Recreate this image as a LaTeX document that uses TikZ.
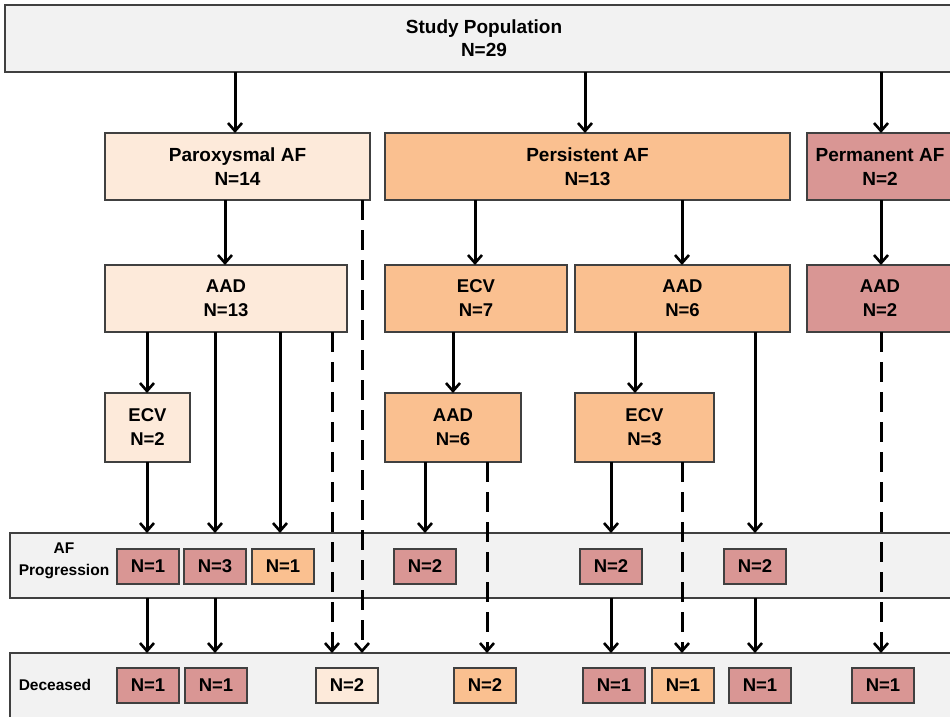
\documentclass[tikz,border=0pt]{standalone}
\usepackage{fontspec}
\setmainfont{Liberation Sans}
\usetikzlibrary{arrows.meta}
\definecolor{peach}{HTML}{FDEADA}
\definecolor{orng}{HTML}{FAC090}
\definecolor{rose}{HTML}{D99694}
\definecolor{bandc}{HTML}{F2F2F2}
\definecolor{edgec}{HTML}{404040}
\begin{document}
\begin{tikzpicture}[x=1pt,y=-1pt,
  box/.style={draw=edgec, line width=1.3pt, inner sep=0pt, outer sep=0pt,
    anchor=north west, align=center, minimum height=67pt,
    font=\fontsize{18.5}{24}\selectfont\bfseries},
  sm/.style={box, minimum width=62pt, minimum height=35pt},
  lbl/.style={align=center, inner sep=0pt, font=\fontsize{15.5}{22}\selectfont\bfseries},
  arr/.style={line width=3pt, -{Straight Barb[length=8pt,width=14pt,line width=2.6pt]}},
  dsh/.style={arr, dash pattern=on 20pt off 10pt},
]
\useasboundingbox (0,0) rectangle (950,716);
\clip (0,0) rectangle (950,716);
\fill[white] (0,0) rectangle (950,716);
\foreach \v in {147,215,225,235,280,332,362,425,453,475,487,585,611,635,682,755,881}
  \coordinate (c\v) at (\v,0);
% bands
\node[box, fill=bandc, minimum width=960pt, minimum height=65pt] (prog) at (10,533) {};
\node[box, fill=bandc, minimum width=960pt, minimum height=80pt] (dec) at (10,653) {};
\node[lbl] (proglbl) at (64,561) {AF\\Progression};
\node[lbl] (declbl) at (55,685) {Deceased};
% level 1-2
\node[box, fill=bandc, minimum width=958pt, font=\fontsize{19}{23}\selectfont\bfseries] (pop) at (5,5) {Study Population\\N=29};
\node[box, fill=peach, minimum width=265pt, font=\fontsize{19}{24}\selectfont\bfseries] (par) at (105,133) {Paroxysmal AF\\N=14};
\node[box, fill=orng, minimum width=405pt, font=\fontsize{19}{24}\selectfont\bfseries] (per) at (385,133) {Persistent AF\\N=13};
\node[box, fill=rose, minimum width=146pt, font=\fontsize{19}{24}\selectfont\bfseries] (perm) at (807,133) {Permanent AF\\N=2};
% level 3
\node[box, fill=peach, minimum width=242pt] (aad13) at (105,265) {AAD\\N=13};
\node[box, fill=orng, minimum width=182pt] (ecv7) at (385,265) {ECV\\N=7};
\node[box, fill=orng, minimum width=215pt] (aad6) at (575,265) {AAD\\N=6};
\node[box, fill=rose, minimum width=146pt] (aad2) at (807,265) {AAD\\N=2};
% level 4
\node[box, fill=peach, minimum width=85pt, minimum height=69pt] (ecv2) at (105,393) {ECV\\N=2};
\node[box, fill=orng, minimum width=136pt, minimum height=69pt] (aad6b) at (385,393) {AAD\\N=6};
\node[box, fill=orng, minimum width=139pt, minimum height=69pt] (ecv3) at (575,393) {ECV\\N=3};
% connectors
\draw[arr] (pop.south -| c235) -- (par.north -| c235);
\draw[arr] (pop.south -| c585) -- (per.north -| c585);
\draw[arr] (pop.south -| c881) -- (perm.north -| c881);
\draw[arr] (par.south -| c225) -- (aad13.north -| c225);
\draw[dsh] (par.south -| c362) -- (dec.north -| c362);
\draw[arr] (per.south -| c475) -- (ecv7.north -| c475);
\draw[arr] (per.south -| c682) -- (aad6.north -| c682);
\draw[arr] (perm.south -| c881) -- (aad2.north -| c881);
\draw[arr] (aad13.south -| c147) -- (ecv2.north -| c147);
\draw[arr] (aad13.south -| c215) -- (prog.north -| c215);
\draw[arr] (aad13.south -| c280) -- (prog.north -| c280);
\draw[dsh] (aad13.south -| c332) -- (dec.north -| c332);
\draw[arr] (ecv7.south -| c453) -- (aad6b.north -| c453);
\draw[arr] (aad6.south -| c635) -- (ecv3.north -| c635);
\draw[arr] (aad6.south -| c755) -- (prog.north -| c755);
\draw[dsh] (aad2.south -| c881) -- (dec.north -| c881);
\draw[arr] (ecv2.south -| c147) -- (prog.north -| c147);
\draw[arr] (aad6b.south -| c425) -- (prog.north -| c425);
\draw[dsh] (aad6b.south -| c487) -- (dec.north -| c487);
\draw[arr] (ecv3.south -| c611) -- (prog.north -| c611);
\draw[dsh] (ecv3.south -| c682) -- (dec.north -| c682);
\draw[arr] (prog.south -| c147) -- (dec.north -| c147);
\draw[arr] (prog.south -| c215) -- (dec.north -| c215);
\draw[arr] (prog.south -| c611) -- (dec.north -| c611);
\draw[arr] (prog.south -| c755) -- (dec.north -| c755);
% small boxes, progression
\node[sm, fill=rose] (p1) at (117,549) {N=1};
\node[sm, fill=rose] (p2) at (184,549) {N=3};
\node[sm, fill=orng] (p3) at (252,549) {N=1};
\node[sm, fill=rose] (p4) at (394,549) {N=2};
\node[sm, fill=rose] (p5) at (580,549) {N=2};
\node[sm, fill=rose] (p6) at (724,549) {N=2};
% small boxes, deceased
\node[sm, fill=rose] (d1) at (117,668) {N=1};
\node[sm, fill=rose] (d2) at (185,668) {N=1};
\node[sm, fill=peach] (d3) at (316,668) {N=2};
\node[sm, fill=orng] (d4) at (454,668) {N=2};
\node[sm, fill=rose] (d5) at (583,668) {N=1};
\node[sm, fill=orng] (d6) at (652,668) {N=1};
\node[sm, fill=rose] (d7) at (729,668) {N=1};
\node[sm, fill=rose] (d8) at (852,668) {N=1};
\end{tikzpicture}
\end{document}
